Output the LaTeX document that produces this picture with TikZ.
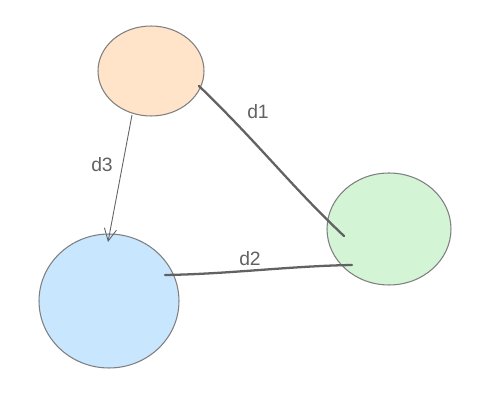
\documentclass[tikz,border=0pt]{standalone}
\usepackage{fontspec}
\setsansfont{Liberation Sans}
\usetikzlibrary{shapes.geometric,calc,arrows.meta}
\definecolor{peach}{HTML}{FFE4C9}
\definecolor{mint}{HTML}{D3F5D6}
\definecolor{sky}{HTML}{C9E6FF}
\definecolor{rim}{HTML}{7F7F7F}
\definecolor{ink}{HTML}{626262}
\tikzset{
  blob/.style={ellipse,draw=rim,line width=0.6pt,inner sep=0pt},
  link/.style={draw=ink,line width=1.3pt,line cap=round},
  lbl/.style={text=ink,font=\sffamily\fontsize{11}{13}\selectfont,inner sep=0pt}
}
\begin{document}
\begin{tikzpicture}[x=0.02cm,y=-0.02cm]
\useasboundingbox (0,0) rectangle (481,402);
\node[blob,fill=peach,minimum width=2.12cm,minimum height=1.8cm] (top) at (151,71) {};
\node[blob,fill=mint,minimum width=2.48cm,minimum height=2.24cm] (right) at (389,229) {};
\node[blob,fill=sky,minimum width=2.8cm,minimum height=2.68cm] (left) at (109,301) {};

\draw[link] ($(top.center)+(48,15)$) .. controls ($(top.center)+(110,75)$) and ($(right.center)+(-100,-45)$) .. ($(right.center)+(-45,7)$);
\draw[link] ($(left.center)+(56,-26)$) .. controls ($(left.center)+(121,-27)$) and ($(right.center)+(-99,37)$) .. ($(right.center)+(-37,36)$);
\draw[draw=ink,line width=0.5pt,-{Straight Barb[length=7pt,width=7pt]}] ($(top.center)+(-19,44)$) -- ($(left.center)+(-1,-59)$);

\node[lbl] (l1) at (258,112) {d1};
\node[lbl] (l2) at (250,259) {d2};
\node[lbl] (l3) at (102,165) {d3};
\end{tikzpicture}
\end{document}
